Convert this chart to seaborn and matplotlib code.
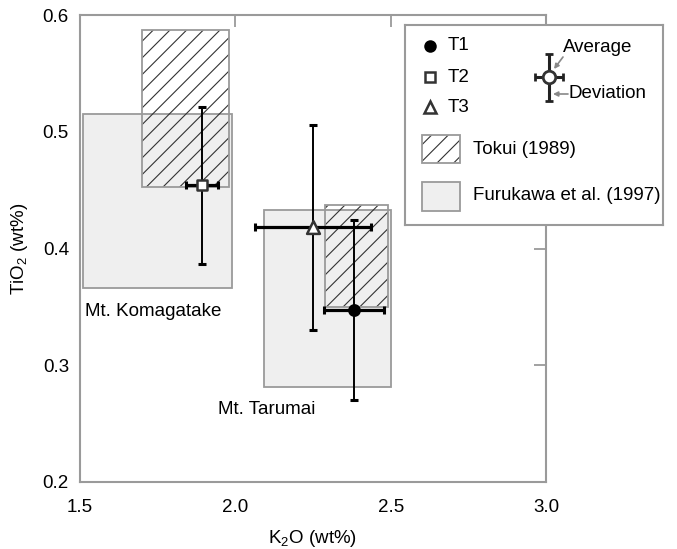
import matplotlib
matplotlib.use("Agg")
import matplotlib.pyplot as plt
from matplotlib.patches import Rectangle
import seaborn as sns
import pandas as pd

# ---- data ----
samples = ["T1", "T2", "T3"]
k2o = [2.382, 1.893, 2.250]
k2o_err = [0.095, 0.052, 0.188]
tio2 = [0.347, 0.454, 0.418]
tio2_err = [0.077, 0.067, 0.088]

# reference ranges: (xmin, xmax, ymin, ymax)
furukawa_kom = [1.51, 1.99, 0.366, 0.515]
furukawa_tar = [2.092, 2.50, 0.281, 0.433]
tokui_kom = [1.70, 1.98, 0.453, 0.587]
tokui_tar = [2.289, 2.49, 0.350, 0.437]

x_ticks = [1.5, 2.0, 2.5, 3.0]
y_ticks = [0.2, 0.3, 0.4, 0.5, 0.6]

df = pd.DataFrame({"sample": samples, "K2O": k2o, "K2O_err": k2o_err,
                   "TiO2": tio2, "TiO2_err": tio2_err})

sns.set_style("white")
plt.rcParams["font.family"] = ["Liberation Sans", "DejaVu Sans"]
plt.rcParams["mathtext.fontset"] = "custom"
plt.rcParams["mathtext.rm"] = "Liberation Sans"
plt.rcParams["mathtext.it"] = "Liberation Sans"
plt.rcParams["mathtext.default"] = "rm"
plt.rcParams["hatch.linewidth"] = 0.8
plt.rcParams["text.color"] = "black"
plt.rcParams["axes.labelcolor"] = "black"
plt.rcParams["xtick.labelcolor"] = "black"
plt.rcParams["ytick.labelcolor"] = "black"

FS = 13.5
GRAY = "#9a9a9a"
FILL = "#efefef"
HATCHC = "#333333"

fig = plt.figure(figsize=(6.77, 5.49), dpi=100)
ax = fig.add_axes([80 / 677, 1 - 482 / 549, 466 / 677, 467 / 549])


def add_box(a, b, hatched):
    x0, x1, y0, y1 = b
    if hatched:
        a.add_patch(Rectangle((x0, y0), x1 - x0, y1 - y0, facecolor="none",
                              edgecolor=HATCHC, hatch="//", lw=0, zorder=2))
        a.add_patch(Rectangle((x0, y0), x1 - x0, y1 - y0, facecolor="none",
                              edgecolor=GRAY, lw=1.3, zorder=2.1))
    else:
        a.add_patch(Rectangle((x0, y0), x1 - x0, y1 - y0, facecolor=FILL,
                              edgecolor=GRAY, lw=1.3, zorder=1))


add_box(ax, furukawa_kom, False)
add_box(ax, furukawa_tar, False)
add_box(ax, tokui_kom, True)
add_box(ax, tokui_tar, True)

# error bars
ax.errorbar(df["K2O"], df["TiO2"], yerr=df["TiO2_err"], fmt="none",
            ecolor="black", elinewidth=1.4, capsize=2.6, capthick=2.2, zorder=3)
ax.errorbar(df["K2O"], df["TiO2"], xerr=df["K2O_err"], fmt="none",
            ecolor="black", elinewidth=2.3, capsize=2.8, capthick=2.2, zorder=3)

mk = {"T1": "o", "T2": "s", "T3": "^"}
face = {"T1": "black", "T2": "white", "T3": "white"}
edge = {"T1": "black", "T2": "#333333", "T3": "#333333"}
size = {"T1": 55, "T2": 45, "T3": 85}
for s in samples:
    sub = df[df["sample"] == s]
    sns.scatterplot(data=sub, x="K2O", y="TiO2", marker=mk[s], s=size[s],
                    color=face[s], edgecolor=edge[s], linewidth=1.8,
                    ax=ax, zorder=4, legend=False)

ax.text(1.515, 0.346, "Mt. Komagatake", fontsize=FS, va="center", ha="left")
ax.text(1.945, 0.262, "Mt. Tarumai", fontsize=FS, va="center", ha="left")

ax.set_xlim(1.5, 3.0)
ax.set_ylim(0.2, 0.6)
ax.set_xticks(x_ticks)
ax.set_yticks(y_ticks)
ax.set_xticklabels([f"{v:.1f}" for v in x_ticks])
ax.set_yticklabels([f"{v:.1f}" for v in y_ticks])
ax.tick_params(direction="in", length=8.5, width=1.3, color=GRAY,
               labelsize=FS, top=True, right=True, labelcolor="black")
ax.tick_params(axis="x", pad=12)
ax.tick_params(axis="y", pad=8)
for sp in ax.spines.values():
    sp.set_color(GRAY)
    sp.set_linewidth(1.5)
ax.set_xlabel("K$_2$O (wt%)", fontsize=FS, labelpad=9)
ax.set_ylabel("TiO$_2$ (wt%)", fontsize=FS, labelpad=9)

# ---- manual legend ----
L0, T0, LW, LH = 405, 25, 258, 200
lg = fig.add_axes([L0 / 677, 1 - (T0 + LH) / 549, LW / 677, LH / 549])
lg.set_xlim(0, LW)
lg.set_ylim(LH, 0)
lg.set_xticks([])
lg.set_yticks([])
lg.set_facecolor("white")
for sp in lg.spines.values():
    sp.set_color(GRAY)
    sp.set_linewidth(1.5)

ms = {"T1": 7.2, "T2": 6.6, "T3": 9.0}
for s, yy in zip(samples, [21, 52, 82]):
    lg.plot([25], [yy], marker=mk[s], ms=ms[s], mfc=face[s], mec=edge[s],
            mew=1.8, ls="none")
    lg.text(43, yy, s, fontsize=FS, va="center", ha="left")

lg.add_patch(Rectangle((17, 110), 38, 28, facecolor="none", edgecolor=HATCHC,
                       hatch="//", lw=0))
lg.add_patch(Rectangle((17, 110), 38, 28, facecolor="none", edgecolor=GRAY, lw=1.3))
lg.text(68, 124, "Tokui (1989)", fontsize=FS, va="center", ha="left")
lg.add_patch(Rectangle((17, 157), 38, 29, facecolor=FILL, edgecolor=GRAY, lw=1.3))
lg.text(68, 171, "Furukawa et al. (1997)", fontsize=FS, va="center", ha="left")

# average / deviation glyph
lg.errorbar([144], [52], yerr=[23.5], xerr=[14], fmt="o", ms=9, mfc="white",
            mec="#333333", mew=2, ecolor="#222222", elinewidth=2.2,
            capsize=3, capthick=2.2)
lg.text(158, 22, "Average", fontsize=FS, va="center", ha="left")
lg.text(163, 69, "Deviation", fontsize=FS, va="center", ha="left")
lg.annotate("", xy=(149, 44), xytext=(158, 32),
            arrowprops=dict(arrowstyle="-|>", color="#888888", lw=1.2,
                            mutation_scale=7, shrinkA=0, shrinkB=0))
lg.annotate("", xy=(148, 69), xytext=(163, 69),
            arrowprops=dict(arrowstyle="-|>", color="#888888", lw=1.2,
                            mutation_scale=7, shrinkA=0, shrinkB=0))

fig.savefig("out.png", dpi=100)
